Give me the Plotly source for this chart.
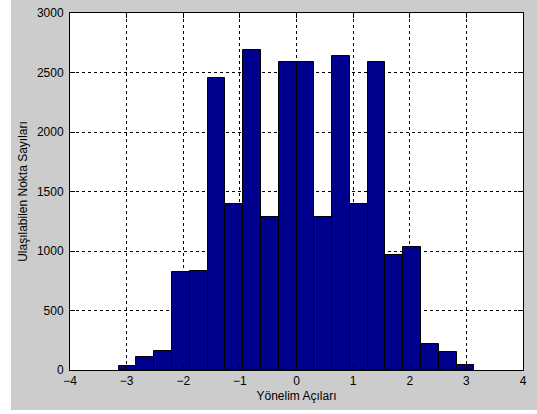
import numpy as np
import plotly.graph_objects as go

# Histogram of orientation angles: 20 equal bins over [-pi, pi]
bin_edges = np.linspace(-np.pi, np.pi, 21)
bin_centers = (bin_edges[:-1] + bin_edges[1:]) / 2
bin_width = bin_edges[1] - bin_edges[0]

counts = [35, 110, 163, 827, 833, 2452, 1395, 2690, 1284, 2592,
          2592, 1284, 2635, 1395, 2587, 970, 1036, 219, 155, 38]

x_ticks = [-4, -3, -2, -1, 0, 1, 2, 3, 4]
y_ticks = [0, 500, 1000, 1500, 2000, 2500, 3000]

x_title = "Yönelim Açıları"
y_title = "Ulaşılabilen Nokta Sayıları"

FIG_GRAY = "#cccccc"
BAR_BLUE = "#00008f"
FONT = "Liberation Sans, Arial, sans-serif"

fig = go.Figure(
    go.Bar(
        x=bin_centers,
        y=counts,
        width=bin_width,
        marker=dict(color=BAR_BLUE, line=dict(color="black", width=1)),
    )
)

axis_common = dict(
    showline=True,
    linecolor="black",
    linewidth=1,
    mirror="allticks",
    ticks="inside",
    ticklen=5,
    tickcolor="black",
    showgrid=True,
    gridcolor="black",
    gridwidth=1,
    griddash="3px,3px",
    zeroline=False,
    tickfont=dict(family=FONT, size=12, color="black"),
)

fig.update_xaxes(
    range=[-4, 4],
    tickvals=x_ticks,
    title=dict(text=x_title, font=dict(family=FONT, size=12, color="black"), standoff=4),
    **axis_common,
)
fig.update_yaxes(
    range=[0, 3000],
    tickvals=y_ticks,
    title=dict(text=y_title, font=dict(family=FONT, size=12, color="black"), standoff=6),
    ticklabelstandoff=3,
    **axis_common,
)

fig.update_layout(
    width=537,
    height=414,
    margin=dict(l=70, r=14, t=13, b=44, autoexpand=False),
    paper_bgcolor=FIG_GRAY,
    plot_bgcolor="white",
    showlegend=False,
    bargap=0,
    shapes=[
        # white strips at the left and bottom edges of the window
        dict(type="rect", xref="paper", yref="paper", x0=-70 / 453, x1=-59 / 453,
             y0=-44 / 357, y1=1.1, fillcolor="white", line=dict(width=0), layer="below"),
        dict(type="rect", xref="paper", yref="paper", x0=-70 / 453, x1=1.1,
             y0=-44 / 357, y1=-40 / 357, fillcolor="white", line=dict(width=0), layer="below"),
    ],
)

fig.write_html("out.html")
